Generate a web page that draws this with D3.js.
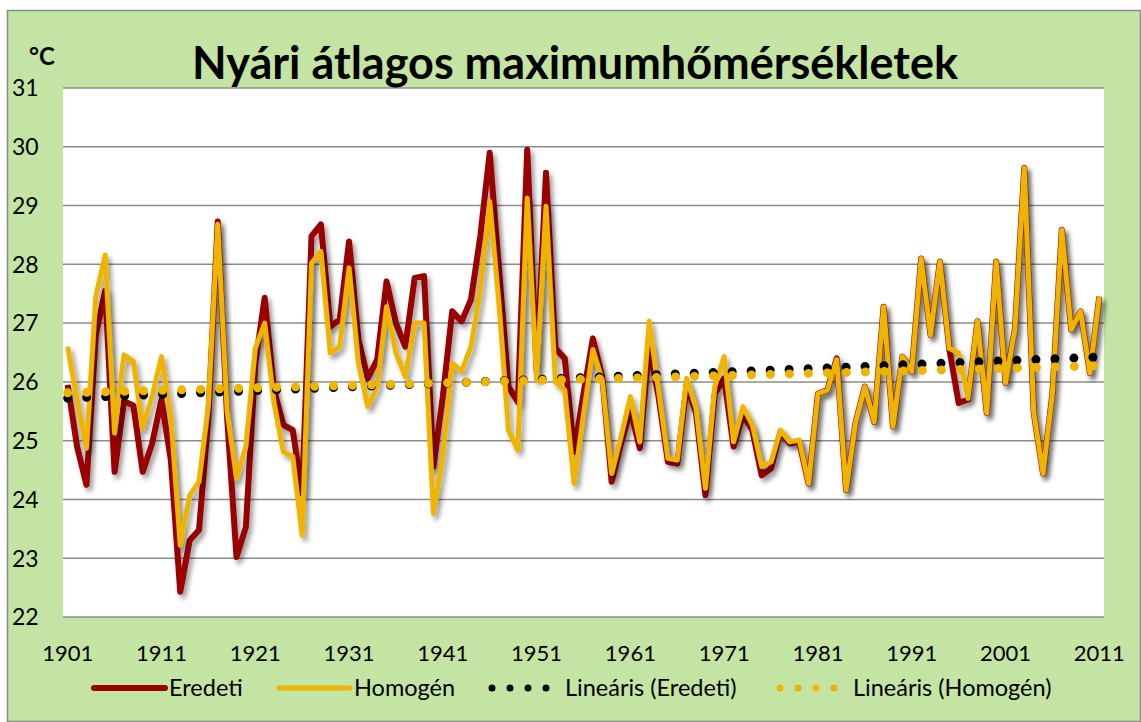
<!DOCTYPE html>
<html>
<head>
<meta charset="utf-8">
<script src="https://cdn.jsdelivr.net/npm/d3@7"></script>
<style>
  body { margin: 0; background: #fff; }
  svg text { font-family: Lato, "Open Sans", sans-serif; fill: #000; }
</style>
</head>
<body>
<div id="viz-container"></div>
<script>
const years = d3.range(1901, 2012);
const tickYears = [1901, 1911, 1921, 1931, 1941, 1951, 1961, 1971, 1981, 1991, 2001, 2011];
const yTicks = [22, 23, 24, 25, 26, 27, 28, 29, 30, 31];

const eredeti = [
  25.95, 24.9, 24.25, 26.8, 27.55, 24.47, 25.67, 25.6, 24.47, 24.95,
  25.7, 24.67, 22.43, 23.3, 23.48, 25.4, 28.73, 25.4, 23.02, 23.53,
  26.3, 27.43, 25.86, 25.27, 25.18, 24.1, 28.48, 28.68, 26.94, 27.06,
  28.39, 26.72, 26.06, 26.38, 27.71, 27.0, 26.6, 27.77, 27.8, 24.56,
  25.75, 27.2, 27.03, 27.4, 28.48, 29.9, 27.9, 25.92, 25.66, 29.95,
  26.2, 29.56, 26.57, 26.4, 24.81, 25.8, 26.74, 26.09, 24.3, 24.95,
  25.52, 24.87, 26.6, 25.75, 24.64, 24.61, 25.95, 25.47, 24.07, 25.8,
  26.06, 24.9, 25.44, 25.18, 24.41, 24.53, 25.15, 24.95, 24.98, 24.27,
  25.8, 25.86, 26.4, 24.16, 25.3, 25.92, 25.32, 27.28, 25.24, 26.43,
  26.18, 28.1, 26.8, 28.05, 26.57, 25.64, 25.7, 27.03, 25.47, 28.05,
  25.98, 26.9, 29.64, 25.49, 24.44, 25.8, 28.59, 26.89, 27.2, 26.15,
  27.45
];

const homogen = [
  26.6, 25.7, 24.87, 27.45, 28.16, 25.13, 26.46, 26.35, 25.21, 25.75,
  26.43, 25.41, 23.22, 24.07, 24.3, 25.6, 28.68, 25.5, 24.36, 24.9,
  26.57, 27.0, 25.64, 24.81, 24.73, 23.39, 28.02, 28.22, 26.49, 26.6,
  27.94, 26.32, 25.58, 25.92, 27.28, 26.49, 26.09, 27.0, 27.0, 23.76,
  24.73, 26.32, 26.18, 26.6, 27.57, 29.07, 27.3, 25.18, 24.84, 29.13,
  26.03, 28.99, 26.0, 25.86, 24.27, 25.45, 26.55, 26.03, 24.44, 25.07,
  25.75, 24.98, 27.03, 25.86, 24.7, 24.67, 26.06, 25.55, 24.19, 25.92,
  26.43, 24.98, 25.58, 25.27, 24.56, 24.64, 25.18, 24.98, 25.01, 24.27,
  25.8, 25.86, 26.38, 24.16, 25.3, 25.92, 25.32, 27.28, 25.24, 26.43,
  26.18, 28.1, 26.8, 28.05, 26.57, 26.49, 25.72, 27.03, 25.47, 28.05,
  25.98, 26.9, 29.64, 25.49, 24.44, 25.8, 28.59, 26.89, 27.2, 26.15,
  27.45
];

const RED = '#990000', GOLD = '#EEB400';

// least squares trend, like Excel's "Lineáris" trendline
const trend = (vals) => {
  const n = vals.length, xs = d3.range(n);
  const mx = d3.mean(xs), my = d3.mean(vals);
  const b = d3.sum(xs, i => (i - mx) * (vals[i] - my)) / d3.sum(xs, i => (i - mx) * (i - mx));
  return xs.map(i => my + b * (i - mx));
};

const width = 1141, height = 722,
      plot = {left: 63, right: 1104, top: 88, bottom: 617};

const x = d3.scalePoint().domain(years).range([plot.left, plot.right]).padding(0.5);
const y = d3.scaleLinear().domain([22, 31]).range([plot.bottom, plot.top]);

const svg = d3.select('#viz-container')
  .append('svg')
    .attr('width', width)
    .attr('height', height);

const defs = svg.append('defs');
defs.append('filter')
    .attr('id', 'shadow')
    .attr('x', '-5%').attr('y', '-5%').attr('width', '110%').attr('height', '115%')
  .append('feDropShadow')
    .attr('dx', 3).attr('dy', 4).attr('stdDeviation', 2.5)
    .attr('flood-color', '#000').attr('flood-opacity', 0.4);

svg.append('rect')
    .attr('x', 7.5).attr('y', 10.5)
    .attr('width', width - 8).attr('height', height - 11)
    .attr('fill', '#C4E4A4')
    .attr('stroke', '#8a8a8a').attr('stroke-width', 1.5);

svg.append('rect')
    .attr('x', plot.left).attr('y', plot.top)
    .attr('width', plot.right - plot.left).attr('height', plot.bottom - plot.top)
    .attr('fill', '#fff');

svg.append('g')
  .selectAll('line')
  .data(yTicks)
  .enter().append('line')
    .attr('x1', plot.left).attr('x2', plot.right)
    .attr('y1', d => y(d)).attr('y2', d => y(d))
    .attr('stroke', '#8c8c8c').attr('stroke-width', 1.5);

svg.append('g')
  .selectAll('text')
  .data(yTicks)
  .enter().append('text')
    .attr('x', 12).attr('y', d => y(d))
    .attr('dy', '0.36em')
    .attr('font-size', 23)
    .text(d => d);

svg.append('g')
  .selectAll('text')
  .data(tickYears)
  .enter().append('text')
    .attr('x', d => x(d)).attr('y', 653)
    .attr('dy', '0.36em')
    .attr('text-anchor', 'middle')
    .attr('font-size', 22)
    .text(d => d);

svg.append('text')
    .attr('x', 29).attr('y', 56)
    .attr('dy', '0.36em')
    .attr('font-size', 24).attr('font-weight', 'bold')
    .text('°C');

svg.append('text')
    .attr('x', 192).attr('y', 62)
    .attr('dy', '0.36em')
    .attr('font-size', 46).attr('font-weight', 'bold')
    .attr('textLength', 766).attr('lengthAdjust', 'spacingAndGlyphs')
    .text('Nyári átlagos maximumhőmérsékletek');

const line = d3.line().x((d, i) => x(years[i])).y(d => y(d));

const marks = svg.append('g');
marks.append('path')
    .datum(eredeti)
    .attr('d', line)
    .attr('fill', 'none').attr('stroke', RED).attr('stroke-width', 6)
    .attr('stroke-linejoin', 'round')
    .attr('filter', 'url(#shadow)');
marks.append('path')
    .datum(homogen)
    .attr('d', line)
    .attr('fill', 'none').attr('stroke', GOLD).attr('stroke-width', 5)
    .attr('stroke-linejoin', 'round')
    .attr('filter', 'url(#shadow)');

[[eredeti, '#000'], [homogen, GOLD]].forEach(([vals, col]) => {
  marks.append('path')
      .datum(trend(vals))
      .attr('d', line)
      .attr('fill', 'none').attr('stroke', col).attr('stroke-width', 9)
      .attr('stroke-linecap', 'round').attr('stroke-dasharray', '0 19');
});

const legend = svg.append('g').attr('transform', 'translate(0,688)');
const items = [
  {label: 'Eredeti', x: 94, type: 'line', col: RED, w: 6},
  {label: 'Homogén', x: 279, type: 'line', col: GOLD, w: 5},
  {label: 'Lineáris (Eredeti)', x: 492, type: 'dots', col: '#000'},
  {label: 'Lineáris (Homogén)', x: 780, type: 'dots', col: GOLD}
];
items.forEach(it => {
  if (it.type === 'line') {
    legend.append('line')
        .attr('x1', it.x).attr('x2', it.x + 71)
        .attr('stroke', it.col).attr('stroke-width', it.w).attr('stroke-linecap', 'round');
    legend.append('text')
        .attr('x', it.x + 75).attr('dy', '0.36em')
        .attr('font-size', 23.5)
        .text(it.label);
  } else {
    legend.append('line')
        .attr('x1', it.x).attr('x2', it.x + 55)
        .attr('stroke', it.col).attr('stroke-width', 7).attr('stroke-linecap', 'round')
        .attr('stroke-dasharray', '0 18');
    legend.append('text')
        .attr('x', it.x + 73).attr('dy', '0.36em')
        .attr('font-size', 23.5)
        .text(it.label);
  }
});
</script>
</body>
</html>
